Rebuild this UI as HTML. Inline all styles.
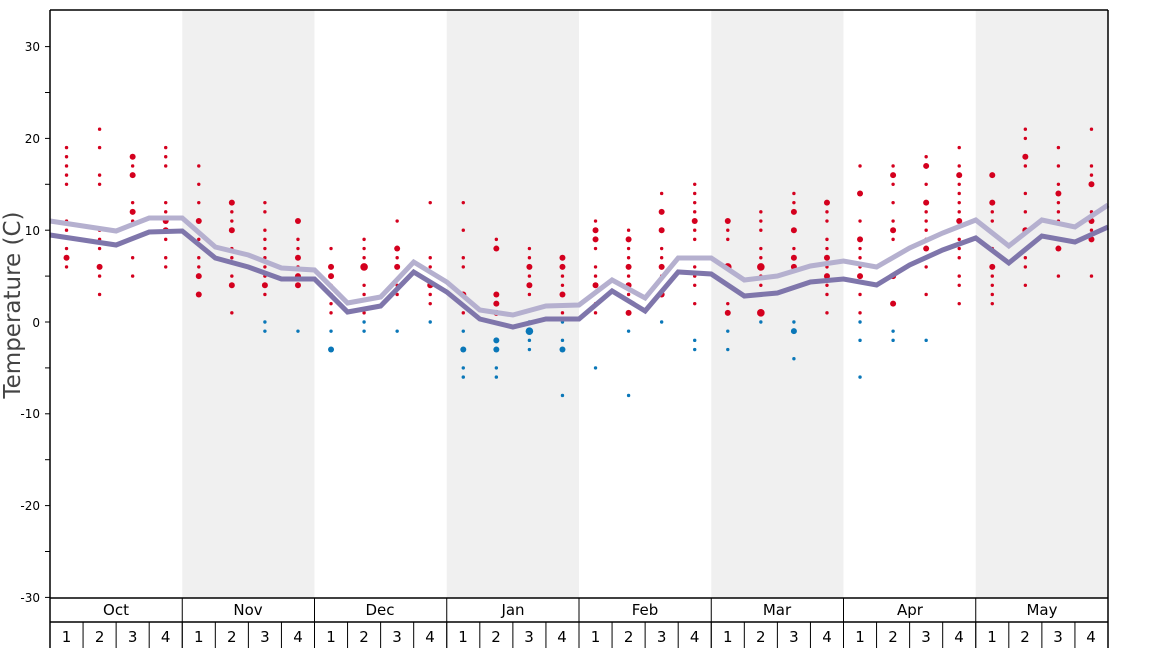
<!DOCTYPE html>
<html><head><meta charset="utf-8"><style>
html,body{margin:0;padding:0;background:#fff;}
svg{display:block;font-family:"DejaVu Sans","Liberation Sans",sans-serif;}
</style></head><body>
<svg id="s" width="1168" height="648" viewBox="0 0 1168 648" xmlns="http://www.w3.org/2000/svg">
<rect x="0" y="0" width="1168" height="648" fill="#fff"/>
<rect x="182.25" y="10" width="132.25" height="588" fill="#f0f0f0"/>
<rect x="446.75" y="10" width="132.25" height="588" fill="#f0f0f0"/>
<rect x="711.25" y="10" width="132.25" height="588" fill="#f0f0f0"/>
<rect x="975.75" y="10" width="132.25" height="588" fill="#f0f0f0"/>
<g id="dots"></g>
<g id="lines"></g>
<g stroke="#000" stroke-width="1.5" fill="none">
<line x1="50" y1="10" x2="50" y2="648"/>
<line x1="1108" y1="10" x2="1108" y2="648"/>
<line x1="50" y1="10" x2="1108" y2="10"/>
<line x1="50" y1="598" x2="1108" y2="598"/>
<line x1="50" y1="622" x2="1108" y2="622"/>
</g>
<g id="ticks" stroke="#000" stroke-width="1"></g>
<g font-size="12" fill="#000" text-anchor="end">
<text x="40" y="51">30</text>
<text x="40" y="143">20</text>
<text x="40" y="235">10</text>
<text x="40" y="327">0</text>
<text x="40" y="418">-10</text>
<text x="40" y="510">-20</text>
<text x="40" y="602">-30</text>
</g>
<text transform="translate(20,305) rotate(-90)" font-size="23" fill="#444" text-anchor="middle">Temperature (C)</text>
<g font-size="15" fill="#000" text-anchor="middle">
<text x="116" y="615">Oct</text><text x="248" y="615">Nov</text><text x="380" y="615">Dec</text><text x="513" y="615">Jan</text>
<text x="645" y="615">Feb</text><text x="777" y="615">Mar</text><text x="910" y="615">Apr</text><text x="1042" y="615">May</text>
</g>
<g font-size="15" fill="#000" text-anchor="middle">
<text x="66.5" y="642">1</text><text x="99.6" y="642">2</text><text x="132.7" y="642">3</text><text x="165.7" y="642">4</text>
<text x="198.8" y="642">1</text><text x="231.8" y="642">2</text><text x="264.9" y="642">3</text><text x="298" y="642">4</text>
<text x="331" y="642">1</text><text x="364" y="642">2</text><text x="397" y="642">3</text><text x="430" y="642">4</text>
<text x="463" y="642">1</text><text x="496" y="642">2</text><text x="529" y="642">3</text><text x="562" y="642">4</text>
<text x="595.5" y="642">1</text><text x="628.6" y="642">2</text><text x="661.7" y="642">3</text><text x="694.7" y="642">4</text>
<text x="727.8" y="642">1</text><text x="760.8" y="642">2</text><text x="793.9" y="642">3</text><text x="827" y="642">4</text>
<text x="860" y="642">1</text><text x="893" y="642">2</text><text x="926" y="642">3</text><text x="959" y="642">4</text>
<text x="992" y="642">1</text><text x="1025" y="642">2</text><text x="1058" y="642">3</text><text x="1091" y="642">4</text>
</g>
</svg>
<script>
var NS="http://www.w3.org/2000/svg";
function el(t,a,p){var e=document.createElementNS(NS,t);for(var k in a)e.setAttribute(k,a[k]);p.appendChild(e);return e;}
function Y(t){return 322-9.18*t;}
var W=1058/32;
var cols=[
"19 18 17 16 15 11 10 8 7B 6",
"21 19 16 15 10 9 8 6B 5 3",
"18B 17 16B 13 12B 11 7 5",
"19 18 17 13 12 11B 10B 9 7 6",
"17 15 13 11B 9 7 6 5B 3B",
"13B 12 11 10B 8 7 5 4B 1",
"13 12 10 9 8 7 6 5 4B 3 0 -1",
"11B 9 8 7B 6 5B 4B -1",
"8 6B 5B 4 3 2 1 -1 -3B",
"9 8 7 6C 4 3 1 0 -1",
"11 8B 7 6B 4 3 -1",
"13 7 6 4B 3 2 0",
"13 10 7 6 3B 1 -1 -3B -5 -6",
"9 8B 3B 2B 1B -2B -3B -5 -6",
"8 7 6B 5 4B 3 0 -1C -2 -3",
"7B 6B 5 4 3B 1 0 -2 -3B -8",
"11 10B 9B 8 6 5 4B 2 1 -5",
"10 9B 8 7 6B 5 4B 3 1B -1 -8",
"14 12B 10B 8 7 6B 5 3B 0",
"15 14 13 12 11B 10 9 7 6 5 4 2 -2 -3",
"11B 10 9 6C 4 2 1B -1 -3",
"12 11 10 8 7 6C 5 4 1C 0",
"14 13 12B 10B 8 7B 6B 0 -1B -4",
"13B 12 11 9 8 7B 6 5B 4 3 1",
"17 14B 11 9B 8 7 6 5B 3 1 0 -2 -6",
"17 16B 15 13 11 10B 9 5B 2B -1 -2",
"18 17B 15 13B 12 11 10 9 8B 6 3 -2",
"19 17 16B 15 14 13 12 11B 9 8 7 5 4 2",
"16B 13B 12 11 8 6B 5 4 3 2",
"21 20 18B 17 14 12 10B 7 6 4",
"19 17 15 14B 13 12 11 9 8B 5",
"21 17 16 15B 12 11B 10 9B 5"];
var dg=document.getElementById("dots");
cols.forEach(function(c,i){
 var x=50+W*(i+0.5);
 c.split(" ").forEach(function(v){
  var r=1.7;
  if(v.slice(-1)=="B"){r=3;v=v.slice(0,-1);}
  else if(v.slice(-1)=="C"){r=3.8;v=v.slice(0,-1);}
  var t=parseFloat(v);
  el("circle",{cx:x,cy:Y(t),r:r,fill:t>0?"#d4001e":"#0a77b8"},dg);
 });
});
var dark=[235,240,245,232,231,258,267,279,279,312,306,272,292,319,327,319,319,291,311,272,274,296,293,282,279,285,265,250,238,263,236,242,227];
var light=[221,226,231,218,218,247,255,268,270,303,297,262,282,310,315,306,305,280,298,258,258,280,276,266,261,267,248,233,220,246,220,227,205];
var lg=document.getElementById("lines");
function pl(a,c){var p=a.map(function(y,i){return (50+W*i)+","+y;}).join(" ");
 el("polyline",{points:p,fill:"none",stroke:c,"stroke-width":5,"stroke-linejoin":"miter"},lg);}
pl(light,"#b5b0cf");pl(dark,"#7f76ab");
var tg=document.getElementById("ticks");
for(var t=-30;t<=30;t+=5){var y=Y(t);el("line",{x1:45,y1:y,x2:50,y2:y},tg);}
for(var m=0;m<=8;m++){var x=50+132.25*m;el("line",{x1:x,y1:598,x2:x,y2:648},tg);}
for(var w=0;w<=32;w++){var x=50+W*w;el("line",{x1:x,y1:622,x2:x,y2:648},tg);}
</script>
</body></html>
